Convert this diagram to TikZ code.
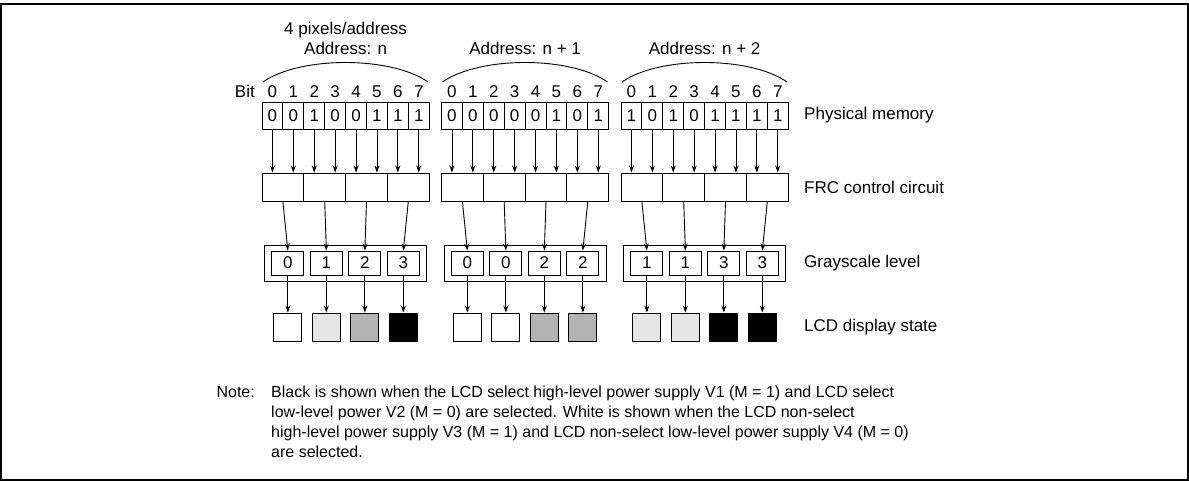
\documentclass[tikz,border=0pt]{standalone}
\usepackage{fontspec}
\setmainfont{Liberation Sans}
\usetikzlibrary{arrows.meta}
\definecolor{lv0}{gray}{1}
\definecolor{lv1}{gray}{0.9}
\definecolor{lv2}{gray}{0.7}
\definecolor{lv3}{gray}{0}
\begin{document}
\begin{tikzpicture}[x=1pt,y=-1pt,
  font=\fontsize{17}{20}\selectfont,
  ln/.style={line width=0.9pt},
  membox/.style={draw,ln,inner sep=0pt,minimum width=20.9pt,minimum height=27pt},
  frcbox/.style={draw,ln,inner sep=0pt,minimum width=41.8pt,minimum height=28pt},
  outerbox/.style={draw,ln,inner sep=0pt,minimum width=162pt,minimum height=36pt},
  innerbox/.style={draw,ln,inner sep=0pt,minimum width=32pt,minimum height=24pt},
  lcdbox/.style={draw,ln,inner sep=0pt,minimum width=28pt,minimum height=28pt},
  arr/.style={ln,-{Stealth[length=7pt,width=5pt]}},
  lbl/.style={anchor=west,inner sep=0pt},
  txt/.style={anchor=base west,inner sep=0pt,font=\fontsize{16}{20}\selectfont},
]
\useasboundingbox (0,0) rectangle (1189,481);
\draw[line width=2pt] (1,4) rectangle (1187.5,479.5);

\node[anchor=base east,inner sep=0pt] (bit) at (255,98) {Bit};

\foreach \g/\x/\bits/\lv in {1/262/{0,0,1,0,0,1,1,1}/{0,1,2,3},
                              2/441.5/{0,0,0,0,0,1,0,1}/{0,0,2,2},
                              3/621/{1,0,1,0,1,1,1,1}/{1,1,3,3}}{
  % memory cells and bit numbers
  \foreach \b [count=\i from 0] in \bits {
    \node[membox] (m\g-\i) at ({\x+20.9*\i+10.45},115.5) {\b};
    \node[inner sep=0pt,anchor=base] (n\g-\i) at ({\x+20.9*\i+10.45},98) {\i};
  }
  % arc
  \coordinate (al\g) at (\x+1,82);
  \coordinate (ar\g) at (\x+166,82);
  \draw[ln] (al\g) .. controls (\x+38,56) and (\x+129,56) .. (ar\g);
  % FRC cells
  \foreach \j in {0,1,2,3} {
    \node[frcbox] (f\g-\j) at ({\x+41.8*\j+20.9},187) {};
  }
  % grayscale
  \node[outerbox] (G\g) at (\x+83.6,263) {};
  \foreach \v [count=\j from 0] in \lv {
    \node[innerbox] (g\g-\j) at ({\x+83.6+(\j-1.5)*38.5},263) {\v};
    \node[lcdbox,fill=lv\v] (d\g-\j) at ({\x+83.6+(\j-1.5)*38.5},327) {};
    \draw[arr] (f\g-\j.south) -- (g\g-\j.north);
    \draw[arr] (g\g-\j.south) -- (d\g-\j.north);
  }
  \foreach \i in {0,...,7} {
    \draw[arr] (m\g-\i.south) -- (m\g-\i.south |- f\g-0.north);
  }
}

\node[inner sep=0pt] (t1a) at (345.6,30) {4 pixels/address};
\node[inner sep=0pt] (t1b) at (345.6,48) {Address: n};
\node[inner sep=0pt] (t2) at (525.1,48) {Address: n + 1};
\node[inner sep=0pt] (t3) at (704.6,48) {Address: n + 2};

\node[lbl] (lpm) at (804,115.5) {Physical memory};
\node[lbl] (lfrc) at (804,187) {FRC control circuit};
\node[lbl] (lgs) at (804,263) {Grayscale level};
\node[lbl] (llcd) at (804,327) {LCD display state};

\node[txt,anchor=base east] (note) at (255,397) {Note:};
\node[txt] (nl1) at (271,397) {Black is shown when the LCD select high-level power supply V1 (M = 1) and LCD select};
\node[txt] (nl2) at (271,417) {low-level power V2 (M = 0) are selected. White is shown when the LCD non-select};
\node[txt] (nl3) at (271,437) {high-level power supply V3 (M = 1) and LCD non-select low-level power supply V4 (M = 0)};
\node[txt] (nl4) at (271,457) {are selected.};
\end{tikzpicture}
\end{document}
